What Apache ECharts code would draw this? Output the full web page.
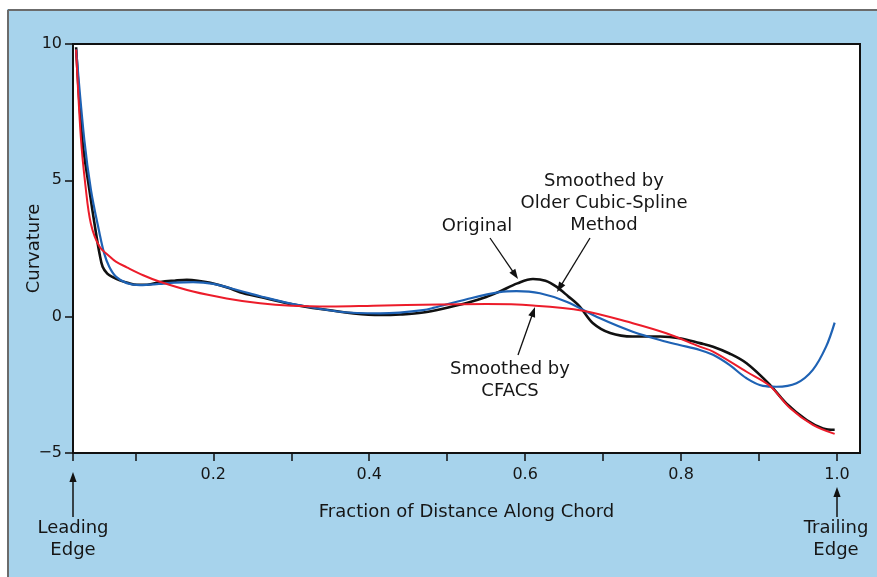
<!DOCTYPE html>
<html>
<head>
<meta charset="utf-8">
<script src="https://cdn.jsdelivr.net/npm/echarts@6/dist/echarts.min.js"></script>
<style>html,body{margin:0;padding:0;background:#fff;}#c{width:877px;height:577px;}</style>
</head>
<body>
<div id="c"></div>
<script>
// ---- data ----
const origX = [0.024, 0.032, 0.041, 0.0495, 0.054, 0.058, 0.064, 0.071, 0.08, 0.09, 0.102, 0.115, 0.132, 0.150, 0.166, 0.180, 0.196, 0.22, 0.234, 0.26, 0.298, 0.34, 0.38, 0.414, 0.44, 0.469, 0.50, 0.525, 0.55, 0.567, 0.59, 0.61, 0.626, 0.64, 0.655, 0.67, 0.687, 0.709, 0.738, 0.773, 0.798, 0.824, 0.841, 0.862, 0.884, 0.914, 0.935, 0.961, 0.982, 0.997];
const origY = [9.88, 6.48, 4.65, 3.06, 2.32, 1.83, 1.58, 1.45, 1.33, 1.24, 1.17, 1.17, 1.27, 1.32, 1.35, 1.32, 1.24, 1.05, 0.9, 0.72, 0.47, 0.27, 0.12, 0.06, 0.08, 0.15, 0.33, 0.5, 0.72, 0.92, 1.22, 1.38, 1.32, 1.1, 0.75, 0.37, -0.24, -0.6, -0.73, -0.73, -0.79, -0.97, -1.1, -1.35, -1.71, -2.5, -3.18, -3.79, -4.1, -4.15];

const splineX = [0.024, 0.0345, 0.043, 0.054, 0.06, 0.0665, 0.075, 0.089, 0.106, 0.13, 0.15, 0.174, 0.2, 0.234, 0.26, 0.298, 0.362, 0.414, 0.439, 0.469, 0.482, 0.525, 0.567, 0.589, 0.619, 0.653, 0.696, 0.738, 0.781, 0.798, 0.824, 0.841, 0.862, 0.884, 0.905, 0.922, 0.948, 0.969, 0.986, 0.997];
const splineY = [9.8, 6.48, 4.65, 3.06, 2.32, 1.83, 1.47, 1.23, 1.16, 1.2, 1.25, 1.27, 1.2, 0.95, 0.75, 0.49, 0.18, 0.12, 0.15, 0.24, 0.32, 0.64, 0.9, 0.94, 0.86, 0.55, -0.06, -0.55, -0.92, -1.04, -1.22, -1.4, -1.77, -2.26, -2.54, -2.57, -2.44, -1.95, -1.1, -0.22];

const cfacsX = [0.024, 0.030, 0.036, 0.043, 0.054, 0.0674, 0.075, 0.089, 0.11, 0.1315, 0.174, 0.217, 0.26, 0.3, 0.35, 0.405, 0.49, 0.55, 0.61, 0.674, 0.738, 0.781, 0.824, 0.841, 0.884, 0.914, 0.94, 0.969, 0.997];
const cfacsY = [9.8, 6.6, 4.8, 3.4, 2.57, 2.2, 2.02, 1.81, 1.52, 1.28, 0.92, 0.67, 0.49, 0.4, 0.37, 0.4, 0.45, 0.46, 0.41, 0.22, -0.24, -0.61, -1.1, -1.28, -2.02, -2.54, -3.36, -3.97, -4.3];

const xTickValues = [0.02, 0.1, 0.2, 0.3, 0.4, 0.5, 0.6, 0.7, 0.8, 0.9, 1.0];
const xLabelValues = [0.2, 0.4, 0.6, 0.8, 1.0];

// ---- chart ----
const FONT = '"DejaVu Sans", "Open Sans", sans-serif';
const TXT = '#161616';
const pairs = (xs, ys) => xs.map((x, i) => [x, ys[i]]);

function arrow(x1, y1, x2, y2, w) {
  const dx = x2 - x1, dy = y2 - y1, L = Math.hypot(dx, dy);
  const ux = dx / L, uy = dy / L, hl = 10, hw = 3.6;
  const bx = x2 - ux * hl, by = y2 - uy * hl;
  return [
    { type: 'line', z: 50, silent: true, shape: { x1: x1, y1: y1, x2: bx + ux * 1, y2: by + uy * 1 }, style: { stroke: '#111', lineWidth: w || 1.3 } },
    { type: 'polygon', z: 50, silent: true, shape: { points: [[x2, y2], [bx - uy * hw, by + ux * hw], [bx + uy * hw, by - ux * hw]] }, style: { fill: '#111' } }
  ];
}
function label(text, x, y) {
  return { type: 'text', z: 50, silent: true, x: x, y: y, style: { text: text, font: '18px ' + FONT, fill: TXT, align: 'center', verticalAlign: 'middle', lineHeight: 22 } };
}

const graphics = [
  { type: 'rect', silent: true, shape: { x: 0, y: 0, width: 877, height: 9 }, style: { fill: '#fff' } },
  { type: 'rect', silent: true, shape: { x: 0, y: 0, width: 7, height: 577 }, style: { fill: '#fff' } },
  { type: 'line', silent: true, shape: { x1: 8, y1: 10, x2: 877, y2: 10 }, style: { stroke: '#6b6b6b', lineWidth: 2 } },
  { type: 'line', silent: true, shape: { x1: 8, y1: 10, x2: 8, y2: 577 }, style: { stroke: '#6b6b6b', lineWidth: 2 } },
  label('Original', 477, 226),
  label('Smoothed by\nOlder Cubic-Spline\nMethod', 604, 203),
  label('Smoothed by\nCFACS', 510, 380),
  label('Leading\nEdge', 73, 539),
  label('Trailing\nEdge', 836, 539)
].concat(
  arrow(490, 238, 518, 279),
  arrow(590, 238, 557, 292),
  arrow(518, 355, 535, 307),
  arrow(73, 517, 73, 472, 1.5),
  arrow(837, 517, 837, 487, 1.5)
);

const chart = echarts.init(document.getElementById('c'), null, { renderer: 'canvas' });
chart.setOption({
  backgroundColor: '#a7d3ec',
  animation: false,
  textStyle: { fontFamily: FONT },
  grid: { left: 73, right: 17, top: 44, bottom: 124, show: true, backgroundColor: '#fff', borderColor: '#111', borderWidth: 2 },
  xAxis: {
    type: 'value', min: 0.02, max: 1.0295,
    name: 'Fraction of Distance Along Chord', nameLocation: 'middle', nameGap: 50, nameMoveOverlap: false,
    nameTextStyle: { fontSize: 18, color: TXT, fontFamily: FONT },
    axisLine: { show: true, onZero: false, lineStyle: { color: '#111', width: 2 } },
    axisTick: { show: true, customValues: xTickValues, length: 8, lineStyle: { color: '#111', width: 1.5 } },
    axisLabel: { customValues: xLabelValues, formatter: v => v.toFixed(1), fontSize: 16, color: TXT, margin: 14, fontFamily: FONT },
    splitLine: { show: false }
  },
  yAxis: {
    type: 'value', min: -5, max: 10, interval: 5,
    name: 'Curvature', nameLocation: 'middle', nameGap: 30, nameRotate: 90, nameMoveOverlap: false,
    nameTextStyle: { fontSize: 18, color: TXT, fontFamily: FONT },
    axisLine: { show: true, onZero: false, lineStyle: { color: '#111', width: 2 } },
    axisTick: { show: true, length: 8, lineStyle: { color: '#111', width: 1.5 } },
    axisLabel: { formatter: v => (v < 0 ? '\u2212' + Math.abs(v) : String(v)), fontSize: 16, color: TXT, margin: 11, fontFamily: FONT },
    splitLine: { show: false }
  },
  series: [
    { name: 'Original', type: 'line', data: pairs(origX, origY), smooth: 0.35, showSymbol: false, lineStyle: { color: '#111111', width: 2.6 }, z: 3 },
    { name: 'Smoothed by Older Cubic-Spline Method', type: 'line', data: pairs(splineX, splineY), smooth: 0.35, showSymbol: false, lineStyle: { color: '#1e62b4', width: 2.2 }, z: 4 },
    { name: 'Smoothed by CFACS', type: 'line', data: pairs(cfacsX, cfacsY), smooth: 0.35, showSymbol: false, lineStyle: { color: '#ec1c2a', width: 2.0 }, z: 5 }
  ],
  graphic: graphics
});
</script>
</body>
</html>
